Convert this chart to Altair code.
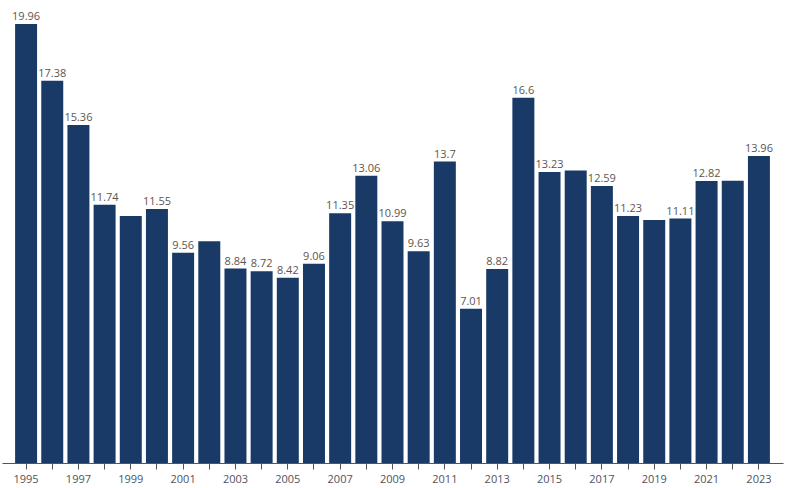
import altair as alt
import pandas as pd

years = [str(y) for y in range(1995, 2024)]
values = [19.96, 17.38, 15.36, 11.74, 11.23, 11.55, 9.56, 10.08, 8.84, 8.72,
          8.42, 9.06, 11.35, 13.06, 10.99, 9.63, 13.7, 7.01, 8.82, 16.6,
          13.23, 13.29, 12.59, 11.23, 11.05, 11.11, 12.82, 12.83, 13.96]
labels = ["19.96", "17.38", "15.36", "11.74", "", "11.55", "9.56", "", "8.84", "8.72",
          "8.42", "9.06", "11.35", "13.06", "10.99", "9.63", "13.7", "7.01", "8.82", "16.6",
          "13.23", "", "12.59", "11.23", "", "11.11", "12.82", "", "13.96"]

df = pd.DataFrame({"year": years, "value": values, "label": labels})

x = alt.X("year:O", title=None,
          scale=alt.Scale(paddingInner=0.16, paddingOuter=0.5),
          axis=alt.Axis(labelAngle=0, labelExpr="toNumber(datum.value) % 2 == 1 ? datum.value : ''",
                        tickSize=6, domainColor="#555", tickColor="#555",
                        labelColor="#4f5260", labelFont="Open Sans", labelFontSize=11,
                        labelPadding=4))
y = alt.Y("value:Q", title=None, scale=alt.Scale(domain=[0, 20], nice=False), axis=None)

bars = alt.Chart(df).mark_bar(color="#193a66").encode(x=x, y=y)
text = alt.Chart(df).mark_text(dy=-7, font="Open Sans", fontSize=11, color="#5c5550").encode(
    x=x, y=y, text="label:N")

chart = (bars + text).properties(
    width=781, height=440,
    autosize=alt.AutoSizeParams(type="none"),
    padding={"left": 2, "top": 23, "right": 11, "bottom": 25},
).configure_view(stroke=None)

chart.save("out.html", embed_options={"renderer": "svg", "actions": False})
